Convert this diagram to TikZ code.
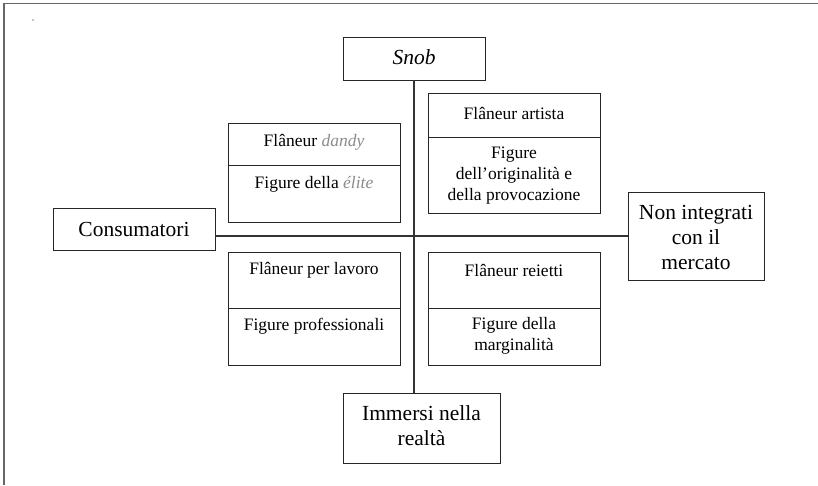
\documentclass[tikz,border=0pt]{standalone}
\usepackage{fontspec}
\setmainfont{Liberation Serif}
\begin{document}
\begin{tikzpicture}[x=1pt,y=-1pt,
  box/.style={draw=black!85,line width=0.9pt,anchor=north west,inner sep=0pt,outer sep=0pt},
  big/.style={font=\fontsize{21.5}{25}\selectfont,align=center,inner sep=0pt},
  small/.style={font=\fontsize{17.5}{21}\selectfont,align=center,inner sep=0pt},
  axis/.style={draw=black!80,line width=1.1pt},
  frame/.style={draw=black!60,line width=1.4pt}]
\useasboundingbox (0,0) rectangle (818,485);
% outer frame
\coordinate (f1) at (4,485);
\coordinate (f2) at (4,3.3);
\coordinate (f3) at (818,3.3);
\draw[frame] (f1) -- (f2) -- (f3);
\fill[black] (33,20) circle (0.6pt);
% axis boxes
\node[box,minimum width=142pt,minimum height=43pt] (snob) at (343,37) {};
\node[big] (snobt) at (414,57) {\itshape Snob};
\node[box,minimum width=162pt,minimum height=42pt] (cons) at (53,208) {};
\node[big] (const) at (134,229) {Consumatori};
\node[box,minimum width=136pt,minimum height=88pt] (nonint) at (628,192) {};
\node[big] (nonintt) at (696,237) {Non integrati\\con il\\mercato};
\node[box,minimum width=157pt,minimum height=70pt] (imm) at (343,393) {};
\node[big] (immt) at (421.5,426) {Immersi nella\\realtà};
% axes
\draw[axis] (snob.south) -- (snob.south |- imm.north);
\draw[axis] (cons.east |- nonint.west) -- (nonint.west);
% top-left
\node[box,minimum width=172pt,minimum height=42pt] (tla) at (228,123) {};
\node[box,minimum width=172pt,minimum height=57pt] (tlb) at (228,165) {};
\node[small] (tlat) at (314,142) {Flâneur \textcolor{black!45}{\itshape dandy}};
\node[small] (tlbt) at (314,184) {Figure della \textcolor{black!45}{\itshape élite}};
% top-right
\node[box,minimum width=172pt,minimum height=44pt] (tra) at (428,93) {};
\node[box,minimum width=172pt,minimum height=76pt] (trb) at (428,137) {};
\node[small] (trat) at (514,113) {Flâneur artista};
\node[small] (trbt) at (514,176) {Figure\\dell’originalità e\\della provocazione};
% bottom-left
\node[box,minimum width=172pt,minimum height=56pt] (bla) at (228,252) {};
\node[box,minimum width=172pt,minimum height=57pt] (blb) at (228,308) {};
\node[small] (blat) at (314,270) {Flâneur per lavoro};
\node[small] (blbt) at (314,326) {Figure professionali};
% bottom-right
\node[box,minimum width=172pt,minimum height=56pt] (bra) at (428,252) {};
\node[box,minimum width=172pt,minimum height=57pt] (brb) at (428,308) {};
\node[small] (brat) at (514,270) {Flâneur reietti};
\node[small] (brbt) at (514,336) {Figure della\\marginalità};
\end{tikzpicture}
\end{document}
